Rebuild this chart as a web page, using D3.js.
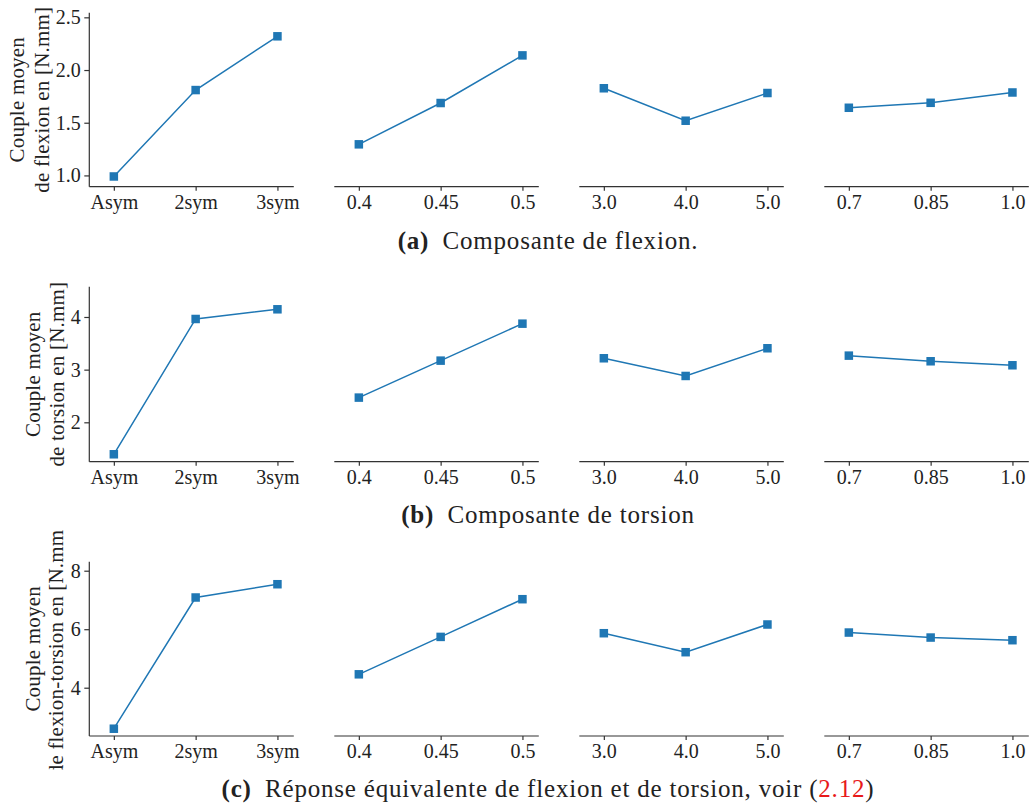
<!DOCTYPE html>
<html>
<head>
<meta charset="utf-8">
<script src="https://cdn.jsdelivr.net/npm/d3@7"></script>
<style>
  html, body { margin: 0; padding: 0; background: #fff; }
  svg { display: block; }
  text { font-family: "Liberation Serif", "Times New Roman", serif; fill: #222; }
</style>
</head>
<body>
<svg id="chart" width="1029" height="807"></svg>
<script>
// ---- Data ----
const groupLabels = [
  ["Asym", "2sym", "3sym"],
  ["0.4", "0.45", "0.5"],
  ["3.0", "4.0", "5.0"],
  ["0.7", "0.85", "1.0"]
];
const flexion = [
  [0.99, 1.81, 2.32],
  [1.295, 1.687, 2.139],
  [1.827, 1.519, 1.782],
  [1.642, 1.689, 1.787]
];
const torsion = [
  [1.393, 3.962, 4.146],
  [2.469, 3.171, 3.873],
  [3.216, 2.88, 3.406],
  [3.266, 3.159, 3.083]
];
const equivalent = [
  [2.598, 7.084, 7.538],
  [4.458, 5.737, 7.026],
  [5.863, 5.214, 6.161],
  [5.886, 5.715, 5.624]
];
const yTicksA = [1.0, 1.5, 2.0, 2.5];
const yTicksB = [2, 3, 4];
const yTicksC = [4, 6, 8];
const yDomainA = [0.893, 2.544];
const yDomainB = [1.252, 4.575];
const yDomainC = [2.349, 8.308];
const yLabelA = ["Couple moyen", "de flexion en [N.mm]"];
const yLabelB = ["Couple moyen", "de torsion en [N.mm]"];
const yLabelC = ["Couple moyen", "de flexion-torsion en [N.mm]"];
const captionA = ["(a)", "Composante de flexion."];
const captionB = ["(b)", "Composante de torsion"];
const captionC = ["(c)", "Réponse équivalente de flexion et de torsion, voir ", "2.12"];

// ---- Layout ----
const svg = d3.select("#chart");
const color = "#1f77b4";
const axisColor = "#333";
const panelLefts = [89.3, 334.3, 579.3, 824.3];
const panelWidth = 204.5;

const rows = [
  { top: 12.7, bottom: 186.7, data: flexion, domain: yDomainA, ticks: yTicksA, fmt: d3.format(".1f"),
    label: yLabelA, labelX: [16.7, 41.7], caption: captionA, capY: 249 },
  { top: 286.7, bottom: 461.7, data: torsion, domain: yDomainB, ticks: yTicksB, fmt: d3.format("d"),
    label: yLabelB, labelX: [33.3, 56.7], caption: captionB, capY: 523 },
  { top: 561.7, bottom: 736, data: equivalent, domain: yDomainC, ticks: yTicksC, fmt: d3.format("d"),
    label: yLabelC, labelX: [33, 56], caption: captionC, capY: 797, clip: true }
];

const defs = svg.append("defs");

rows.forEach((row, ri) => {
  const y = d3.scaleLinear().domain(row.domain).range([row.bottom, row.top]);
  const g = svg.append("g");

  // y axis on first panel
  const yAxis = d3.axisLeft(y).tickValues(row.ticks).tickFormat(row.fmt).tickSize(5).tickPadding(3.5);
  const ya = g.append("g").attr("transform", `translate(${panelLefts[0]},0)`).call(yAxis);
  ya.select(".domain").attr("d", `M0,${row.top}V${row.bottom}`);
  ya.selectAll("path, line").attr("stroke", axisColor).attr("stroke-width", 1.2);
  ya.selectAll("text").attr("font-size", 20).attr("fill", "#222")
    .attr("font-family", '"Liberation Serif", serif');

  // y label
  const lg = g.append("g");
  const cy = (row.top + row.bottom) / 2;
  const labelNodes = row.label.map((t, li) =>
    lg.append("text")
      .attr("transform", `translate(${row.labelX[li]},${cy}) rotate(-90)`)
      .attr("text-anchor", "middle")
      .attr("dominant-baseline", "central")
      .attr("font-size", 21)
      .attr("letter-spacing", 0.2)
      .text(t)
  );
  if (row.clip) {
    // the original sub-figure is cropped: the 2nd label line is cut at both ends
    const node = labelNodes[1].node();
    const n = node.getNumberOfChars();
    const e0 = node.getExtentOfChar(0);
    const eLast = node.getExtentOfChar(n - 1);
    const yBottom = cy - (e0.x + e0.width * 0.55);
    const yTop = cy - (eLast.x + eLast.width * 0.1);
    defs.append("clipPath").attr("id", "clip" + ri)
      .append("rect").attr("x", 0).attr("y", yTop).attr("width", 80).attr("height", yBottom - yTop);
    lg.attr("clip-path", `url(#clip${ri})`);
  }

  // panels
  panelLefts.forEach((left, pi) => {
    const x = d3.scaleLinear().domain([-0.3, 2.2]).range([left, left + panelWidth]);
    const labels = groupLabels[pi];
    const xAxis = d3.axisBottom(x).tickValues([0, 1, 2]).tickFormat(i => labels[i]).tickSize(4).tickPadding(4);
    const xa = g.append("g").attr("transform", `translate(0,${row.bottom})`).call(xAxis);
    xa.selectAll("path, line").attr("stroke", axisColor).attr("stroke-width", 1.2);
    xa.select(".domain").attr("d", `M${left},0H${left + panelWidth}`);
    xa.selectAll("text").attr("font-size", 20).attr("fill", "#222")
      .attr("font-family", '"Liberation Serif", serif');

    const vals = row.data[pi];
    const line = d3.line().x((d, i) => x(i)).y(d => y(d));
    g.append("path").datum(vals).attr("d", line)
      .attr("fill", "none").attr("stroke", color).attr("stroke-width", 1.5);
    const s = 8.5;
    g.selectAll(null).data(vals).enter().append("rect")
      .attr("x", (d, i) => x(i) - s / 2)
      .attr("y", d => y(d) - s / 2)
      .attr("width", s).attr("height", s)
      .attr("fill", color);
  });

  // caption
  const cap = svg.append("text")
    .attr("x", 548).attr("y", row.capY)
    .attr("text-anchor", "middle")
    .attr("font-size", 25)
    .attr("letter-spacing", 0.8);
  cap.append("tspan").attr("font-weight", "bold").text(row.caption[0]);
  if (row.caption.length > 2) {
    cap.append("tspan").text("\u2002" + row.caption[1] + "(");
    cap.append("tspan").style("fill", "#e8191a").text(row.caption[2]);
    cap.append("tspan").text(")");
  } else {
    cap.append("tspan").text("\u2002" + row.caption[1]);
  }
});
</script>
</body>
</html>
